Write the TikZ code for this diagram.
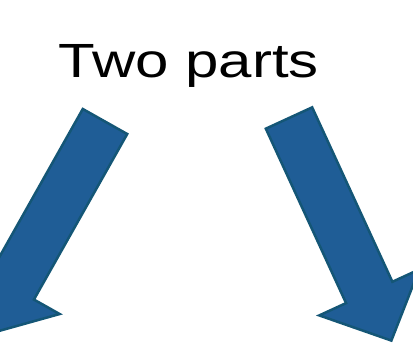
\documentclass[tikz,border=0pt]{standalone}
\usepackage{fontspec}
\usepackage{graphicx}
\setmainfont{Liberation Sans}
\definecolor{ArrowBlue}{RGB}{31,93,150}
\definecolor{ArrowEdge}{RGB}{20,86,118}
\tikzset{blockarrow/.style={fill=ArrowBlue, draw=ArrowEdge, line width=2.5pt, line join=miter}}

\begin{document}
\begin{tikzpicture}[x=1pt,y=1pt]
                    \useasboundingbox (0,0) rectangle (413,-362);
                    \clip (0,0) rectangle (413,-362);
%                    title
                    \node[anchor=base, inner sep=0pt] (title) at (189,-77)
                        {\scalebox{1.25}[1]{\fontsize{48}{48}\selectfont Two parts}};

%                    arrows
                    \draw[blockarrow, shift={(105,-121.5)}, rotate=240.6]
                        (0,25.5) -- (190,25.5) -- (190,55) -- (245,0) -- (190,-55) -- (190,-25.5) -- (0,-25.5) -- cycle;
                    \draw[blockarrow, shift={(289,-118)}, rotate=294.7]
                        (0,25.5) -- (192,25.5) -- (192,55) -- (245,0) -- (192,-55) -- (192,-25.5) -- (0,-25.5) -- cycle;

                \end{tikzpicture}
\end{document}
